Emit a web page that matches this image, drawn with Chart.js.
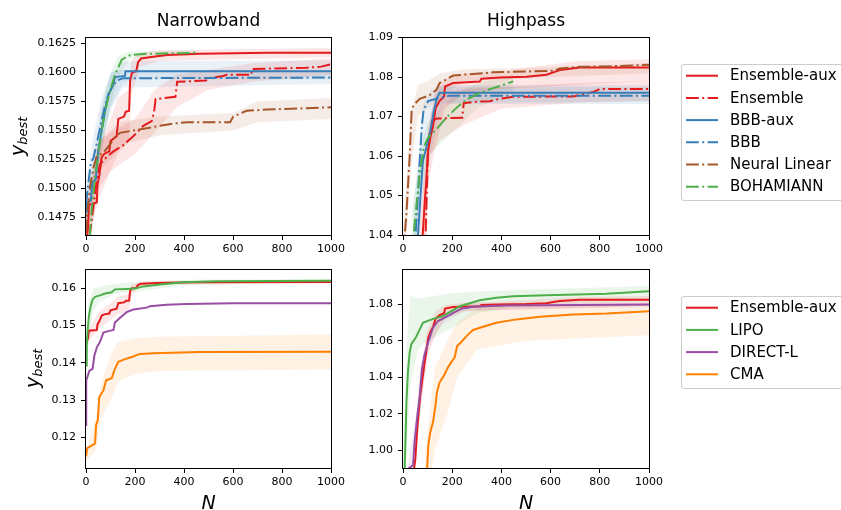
<!DOCTYPE html>
<html>
<head>
<meta charset="utf-8">
<script src="https://cdn.jsdelivr.net/npm/chart.js@4.4.1/dist/chart.umd.min.js"></script>
<style>
  html, body { margin: 0; padding: 0; background: #fff; }
  body { width: 841px; height: 510px; position: relative; overflow: hidden; font-family: "DejaVu Sans", sans-serif; color: #000; }
  canvas.panel { position: absolute; }
  .txt { position: absolute; white-space: nowrap; line-height: 1; color: #000; }
  .title { font-size: 17px; }
  .xlab { font-size: 19px; font-style: italic; }
  .ylab { font-size: 19px; font-style: italic; transform-origin: 0 0; }
  .ylab sub { font-size: 13px; vertical-align: -0.25em; }
  .legend { position: absolute; border: 1px solid #cccccc; border-radius: 3px; background: #fff; box-sizing: border-box; }
  .legtxt { position: absolute; white-space: nowrap; line-height: 1; font-size: 15px; }
  svg.legsvg { position: absolute; left: 0; top: 0; overflow: visible; }
</style>
</head>
<body>
<canvas id="tl" class="panel"></canvas>
<canvas id="tr" class="panel"></canvas>
<canvas id="bl" class="panel"></canvas>
<canvas id="br" class="panel"></canvas>

<script>
// ---------- tick values ----------
const xTicks = [0, 200, 400, 600, 800, 1000];
const nbTopTicks = [0.1475, 0.1500, 0.1525, 0.1550, 0.1575, 0.1600, 0.1625];
const hpTopTicks = [1.04, 1.05, 1.06, 1.07, 1.08, 1.09];
const nbBottomTicks = [0.12, 0.13, 0.14, 0.15, 0.16];
const hpBottomTicks = [1.00, 1.02, 1.04, 1.06, 1.08];

// ---------- Narrowband: surrogate models ----------
const nbEnsAuxN = [0, 8, 12, 44, 47, 55, 64, 75, 95, 100, 125, 132, 155, 162, 176, 180, 188, 205, 213, 225, 290, 330, 465, 740, 1000];
const nbEnsAuxY = [0.1452, 0.1466, 0.1486, 0.1488, 0.1503, 0.1512, 0.1527, 0.1530, 0.1532, 0.1541, 0.1545, 0.1560, 0.1562, 0.1566, 0.1567, 0.1593, 0.1600, 0.1601, 0.1609, 0.1612, 0.1614, 0.1615, 0.1616, 0.1617, 0.1617];
const nbEnsAuxBandN  = [0, 20, 50, 100, 130, 175, 185, 220, 300, 1000];
const nbEnsAuxBandLo = [0.1440, 0.1465, 0.1490, 0.1515, 0.1530, 0.1540, 0.1580, 0.1605, 0.1610, 0.1613];
const nbEnsAuxBandHi = [0.1470, 0.1500, 0.1535, 0.1560, 0.1578, 0.1585, 0.1610, 0.1617, 0.1619, 0.1621];

const nbEnsN = [0, 16, 30, 44, 57, 84, 112, 150, 193, 234, 268, 278, 284, 365, 372, 490, 500, 560, 575, 675, 678, 900, 960, 1000];
const nbEnsY = [0.1440, 0.1461, 0.1484, 0.1507, 0.1521, 0.1527, 0.1532, 0.1537, 0.1545, 0.1554, 0.1558, 0.1566, 0.1577, 0.1579, 0.1592, 0.1593, 0.1595, 0.1597, 0.1598, 0.1598, 0.1603, 0.1604, 0.1605, 0.1607];
const nbEnsBandN  = [0, 50, 100, 200, 280, 370, 500, 680, 1000];
const nbEnsBandLo = [0.1440, 0.1500, 0.1515, 0.1530, 0.1548, 0.1570, 0.1585, 0.1592, 0.1598];
const nbEnsBandHi = [0.1480, 0.1540, 0.1548, 0.1560, 0.1585, 0.1598, 0.1602, 0.1608, 0.1612];

const nbBbbAuxN = [0, 3, 20, 25, 40, 50, 64, 78, 91, 111, 118, 159, 161, 1000];
const nbBbbAuxY = [0.1480, 0.1487, 0.1490, 0.1505, 0.1508, 0.1532, 0.1550, 0.1567, 0.1581, 0.1589, 0.1596, 0.1597, 0.1601, 0.1601];
const nbBbbAuxBandN  = [0, 30, 60, 100, 150, 200, 1000];
const nbBbbAuxBandLo = [0.1465, 0.1490, 0.1530, 0.1570, 0.1590, 0.1594, 0.1594];
const nbBbbAuxBandHi = [0.1500, 0.1525, 0.1565, 0.1598, 0.1609, 0.1610, 0.1610];

const nbBbbN = [0, 10, 20, 30, 45, 60, 75, 90, 105, 125, 150, 1000];
const nbBbbY = [0.1487, 0.1505, 0.1523, 0.1526, 0.1540, 0.1555, 0.1569, 0.1580, 0.1587, 0.1593, 0.1595, 0.15956];
const nbBbbBandN  = [0, 30, 60, 100, 150, 1000];
const nbBbbBandLo = [0.1470, 0.1505, 0.1535, 0.1568, 0.1587, 0.1590];
const nbBbbBandHi = [0.1505, 0.1545, 0.1575, 0.1600, 0.1602, 0.1602];

const nbNeuralN = [0, 5, 16, 30, 44, 71, 98, 118, 139, 193, 248, 302, 356, 411, 588, 601, 656, 737, 873, 1000];
const nbNeuralY = [0.1462, 0.1478, 0.1501, 0.1518, 0.1528, 0.1531, 0.1538, 0.1544, 0.1548, 0.1550, 0.1552, 0.1554, 0.1556, 0.1557, 0.1557, 0.1562, 0.1567, 0.1568, 0.1569, 0.1570];
const nbNeuralBandN  = [0, 50, 100, 150, 300, 600, 700, 1000];
const nbNeuralBandLo = [0.1455, 0.1515, 0.1525, 0.1538, 0.1546, 0.1550, 0.1557, 0.1560];
const nbNeuralBandHi = [0.1480, 0.1540, 0.1550, 0.1558, 0.1562, 0.1565, 0.1575, 0.1578];

const nbBohN = [0, 10, 16, 23, 37, 50, 64, 78, 98, 118, 146, 180, 248, 458];
const nbBohY = [0.1440, 0.1455, 0.1461, 0.1481, 0.1510, 0.1530, 0.1550, 0.1567, 0.1584, 0.1598, 0.1611, 0.1615, 0.1616, 0.1617];
const nbBohBandN  = [0, 20, 40, 60, 80, 100, 130, 180, 458];
const nbBohBandLo = [0.1430, 0.1450, 0.1490, 0.1525, 0.1550, 0.1570, 0.1595, 0.1612, 0.1615];
const nbBohBandHi = [0.1460, 0.1480, 0.1525, 0.1565, 0.1585, 0.1600, 0.1614, 0.1618, 0.1619];

// ---------- Highpass: surrogate models ----------
const hpEnsAuxN = [40, 50, 58, 70, 80, 88, 95, 102, 111, 122, 133, 149, 167, 171, 204, 312, 319, 393, 502, 583, 611, 638, 719, 1000];
const hpEnsAuxY = [0.985, 0.995, 1.012, 1.030, 1.040, 1.048, 1.054, 1.0613, 1.0647, 1.0676, 1.0722, 1.0740, 1.0751, 1.0776, 1.0785, 1.0789, 1.0796, 1.0799, 1.0801, 1.0806, 1.0812, 1.0818, 1.0824, 1.0824];
const hpEnsAuxBandN  = [40, 70, 100, 130, 170, 250, 400, 700, 1000];
const hpEnsAuxBandLo = [0.975, 1.020, 1.052, 1.062, 1.072, 1.076, 1.077, 1.078, 1.079];
const hpEnsAuxBandHi = [0.995, 1.045, 1.066, 1.076, 1.0795, 1.081, 1.0815, 1.084, 1.0845];

const hpEnsN = [80, 92, 98, 102, 108, 119, 136, 241, 247, 285, 353, 393, 448, 692, 773, 800, 1000];
const hpEnsY = [1.030, 1.040, 1.0538, 1.063, 1.0655, 1.0689, 1.0695, 1.0697, 1.0734, 1.0737, 1.0739, 1.0745, 1.0750, 1.0751, 1.0762, 1.0770, 1.0770];
const hpEnsBandN  = [80, 110, 150, 250, 400, 700, 1000];
const hpEnsBandLo = [1.020, 1.060, 1.064, 1.068, 1.072, 1.0735, 1.074];
const hpEnsBandHi = [1.050, 1.070, 1.076, 1.077, 1.0775, 1.0785, 1.079];

const hpBbbAuxN = [50, 61, 70, 81, 98, 111, 125, 138, 149, 1000];
const hpBbbAuxY = [1.030, 1.040, 1.0488, 1.0588, 1.063, 1.0663, 1.0713, 1.0747, 1.0760, 1.0760];
const hpBbbAuxBandN  = [50, 80, 110, 140, 170, 1000];
const hpBbbAuxBandLo = [1.025, 1.050, 1.060, 1.069, 1.0735, 1.0738];
const hpBbbAuxBandHi = [1.045, 1.064, 1.070, 1.0775, 1.0780, 1.0780];

const hpBbbN = [40, 51, 61, 68, 77, 84, 102, 136, 190, 1000];
const hpBbbY = [1.030, 1.040, 1.0505, 1.0588, 1.068, 1.0718, 1.0739, 1.0745, 1.0753, 1.0753];
const hpBbbBandN  = [40, 60, 80, 110, 150, 200, 1000];
const hpBbbBandLo = [1.025, 1.044, 1.063, 1.070, 1.0730, 1.0732, 1.0732];
const hpBbbBandHi = [1.045, 1.058, 1.073, 1.0765, 1.0775, 1.0775, 1.0775];

const hpNeuralN = [0, 7, 14, 20, 27, 31, 35, 43, 68, 108, 136, 149, 204, 366, 611, 638, 719, 828, 1000];
const hpNeuralY = [1.030, 1.040, 1.0454, 1.0521, 1.0597, 1.0655, 1.0714, 1.0729, 1.0745, 1.0754, 1.0768, 1.0785, 1.0804, 1.0812, 1.0816, 1.0822, 1.0826, 1.0827, 1.0831];
const hpNeuralBandN  = [0, 30, 60, 100, 150, 250, 600, 1000];
const hpNeuralBandLo = [1.025, 1.055, 1.070, 1.072, 1.075, 1.079, 1.080, 1.081];
const hpNeuralBandHi = [1.040, 1.070, 1.078, 1.079, 1.081, 1.082, 1.0825, 1.0835];

const hpBohN = [35, 43, 54, 68, 84, 102, 136, 176, 217, 258, 312, 366, 407, 448];
const hpBohY = [1.030, 1.040, 1.0471, 1.0555, 1.0622, 1.0647, 1.0668, 1.0697, 1.0722, 1.0743, 1.0760, 1.0772, 1.0780, 1.0789];
const hpBohBandN  = [35, 70, 100, 150, 200, 300, 448];
const hpBohBandLo = [1.025, 1.050, 1.060, 1.063, 1.066, 1.072, 1.0765];
const hpBohBandHi = [1.045, 1.062, 1.068, 1.072, 1.075, 1.0785, 1.0805];

// ---------- Narrowband: global optimisers ----------
const nbLipoN = [0, 3, 7, 12, 19, 27, 37, 57, 78, 105, 118, 166, 200, 234, 302, 397, 533, 1000];
const nbLipoY = [0.1393, 0.1446, 0.1490, 0.1526, 0.1552, 0.1570, 0.1577, 0.1581, 0.1586, 0.1589, 0.1597, 0.1598, 0.1599, 0.1605, 0.1610, 0.1616, 0.1619, 0.1620];
const nbLipoBandN  = [0, 10, 30, 60, 120, 200, 400, 1000];
const nbLipoBandLo = [0.1330, 0.1450, 0.1540, 0.1565, 0.1585, 0.1590, 0.1608, 0.1615];
const nbLipoBandHi = [0.1430, 0.1560, 0.1600, 0.1605, 0.1612, 0.1617, 0.1623, 0.1625];

const nbDirectN = [0, 1, 14, 27, 34, 44, 57, 71, 91, 112, 118, 139, 166, 193, 248, 261, 329, 411, 601, 1000];
const nbDirectY = [0.1233, 0.1353, 0.1379, 0.1384, 0.1419, 0.1441, 0.1456, 0.1481, 0.1485, 0.1488, 0.1508, 0.1521, 0.1536, 0.1543, 0.1548, 0.1552, 0.1556, 0.1558, 0.1560, 0.1560];

const nbCmaN = [0, 5, 23, 37, 41, 48, 54, 71, 82, 105, 118, 132, 159, 193, 220, 275, 465, 1000];
const nbCmaY = [0.1149, 0.1171, 0.1178, 0.1184, 0.1233, 0.1246, 0.1308, 0.1326, 0.1353, 0.1359, 0.1384, 0.1403, 0.1410, 0.1417, 0.1424, 0.1426, 0.1429, 0.1430];
const nbCmaBandN  = [0, 40, 60, 100, 130, 200, 300, 1000];
const nbCmaBandLo = [0.1135, 0.1165, 0.1250, 0.1300, 0.1350, 0.1370, 0.1378, 0.1382];
const nbCmaBandHi = [0.1160, 0.1250, 0.1340, 0.1420, 0.1455, 0.1465, 0.1470, 0.1476];

// ---------- Highpass: global optimisers ----------
const hpLipoN = [0, 7, 14, 20, 27, 34, 52, 68, 81, 122, 163, 197, 231, 312, 380, 448, 583, 828, 1000];
const hpLipoY = [0.970, 0.990, 1.0263, 1.0426, 1.0535, 1.0581, 1.0617, 1.0662, 1.0698, 1.0720, 1.0735, 1.0762, 1.0789, 1.0822, 1.0835, 1.0844, 1.0849, 1.0858, 1.0871];
const hpLipoBandN  = [0, 15, 30, 60, 100, 200, 300, 500, 1000];
const hpLipoBandLo = [0.960, 1.000, 1.035, 1.055, 1.060, 1.067, 1.075, 1.080, 1.0815];
const hpLipoBandHi = [0.990, 1.060, 1.085, 1.083, 1.084, 1.086, 1.087, 1.088, 1.090];

const hpDirectN = [0, 24, 41, 47, 57, 68, 77, 88, 102, 122, 142, 176, 210, 237, 285, 421, 1000];
const hpDirectY = [0.970, 0.990, 0.9918, 1.0045, 1.0172, 1.0299, 1.0444, 1.0526, 1.0590, 1.0671, 1.0708, 1.0731, 1.0757, 1.0775, 1.0786, 1.0793, 1.0798];
const hpDirectBandN  = [0, 60, 100, 150, 250, 1000];
const hpDirectBandLo = [0.965, 1.010, 1.055, 1.068, 1.0765, 1.0785];
const hpDirectBandHi = [0.975, 1.025, 1.063, 1.074, 1.0805, 1.081];

const hpCmaN = [90, 98, 103, 111, 122, 132, 138, 149, 166, 183, 197, 210, 220, 237, 265, 285, 326, 380, 461, 556, 692, 828, 1000];
const hpCmaY = [0.980, 0.990, 1.0027, 1.010, 1.0154, 1.0245, 1.0318, 1.0372, 1.0408, 1.0454, 1.0484, 1.0508, 1.0571, 1.0593, 1.0635, 1.0659, 1.0677, 1.0698, 1.0717, 1.0731, 1.0744, 1.0749, 1.0762];
const hpCmaBandN  = [90, 130, 180, 220, 300, 500, 1000];
const hpCmaBandLo = [0.970, 1.000, 1.020, 1.040, 1.055, 1.060, 1.063];
const hpCmaBandHi = [1.000, 1.045, 1.060, 1.070, 1.078, 1.079, 1.080];

// ---------- styling ----------
const RED = '#e41a1c', BLUE = '#377eb8', BROWN = '#a65628', GREEN = '#4daf4a', PURPLE = '#984ea3', ORANGE = '#ff7f00';
const SOLID = [];
const DASHDOT = [12.8, 3.4, 2, 3.4];
const LINE_W = 2;
const BAND_ALPHA = 0.11;

function rgba(hex, a) {
  const n = parseInt(hex.slice(1), 16);
  return `rgba(${(n >> 16) & 255},${(n >> 8) & 255},${n & 255},${a})`;
}
function pts(xs, ys) { return xs.map((x, i) => ({ x: x, y: ys[i] })); }

// Series tables (label, colour, dash, data, optional band)
const topLegend = [
  { label: 'Ensemble-aux', color: RED,   dash: SOLID },
  { label: 'Ensemble',     color: RED,   dash: DASHDOT },
  { label: 'BBB-aux',      color: BLUE,  dash: SOLID },
  { label: 'BBB',          color: BLUE,  dash: DASHDOT },
  { label: 'Neural Linear',color: BROWN, dash: DASHDOT },
  { label: 'BOHAMIANN',    color: GREEN, dash: DASHDOT }
];
const bottomLegend = [
  { label: 'Ensemble-aux', color: RED,    dash: SOLID },
  { label: 'LIPO',         color: GREEN,  dash: SOLID },
  { label: 'DIRECT-L',     color: PURPLE, dash: SOLID },
  { label: 'CMA',          color: ORANGE, dash: SOLID }
];

const panels = [
  {
    id: 'tl', plot: [86, 36, 331, 235], yMin: 0.1460, yMax: 0.1630, yTicks: nbTopTicks, digits: 4,
    series: [
      [nbEnsAuxN, nbEnsAuxY, [nbEnsAuxBandN, nbEnsAuxBandLo, nbEnsAuxBandHi]],
      [nbEnsN, nbEnsY, [nbEnsBandN, nbEnsBandLo, nbEnsBandHi]],
      [nbBbbAuxN, nbBbbAuxY, [nbBbbAuxBandN, nbBbbAuxBandLo, nbBbbAuxBandHi]],
      [nbBbbN, nbBbbY, [nbBbbBandN, nbBbbBandLo, nbBbbBandHi]],
      [nbNeuralN, nbNeuralY, [nbNeuralBandN, nbNeuralBandLo, nbNeuralBandHi]],
      [nbBohN, nbBohY, [nbBohBandN, nbBohBandLo, nbBohBandHi]]
    ], styles: topLegend
  },
  {
    id: 'tr', plot: [403, 36, 649, 235], yMin: 1.04, yMax: 1.09, yTicks: hpTopTicks, digits: 2,
    series: [
      [hpEnsAuxN, hpEnsAuxY, [hpEnsAuxBandN, hpEnsAuxBandLo, hpEnsAuxBandHi]],
      [hpEnsN, hpEnsY, [hpEnsBandN, hpEnsBandLo, hpEnsBandHi]],
      [hpBbbAuxN, hpBbbAuxY, [hpBbbAuxBandN, hpBbbAuxBandLo, hpBbbAuxBandHi]],
      [hpBbbN, hpBbbY, [hpBbbBandN, hpBbbBandLo, hpBbbBandHi]],
      [hpNeuralN, hpNeuralY, [hpNeuralBandN, hpNeuralBandLo, hpNeuralBandHi]],
      [hpBohN, hpBohY, [hpBohBandN, hpBohBandLo, hpBohBandHi]]
    ], styles: topLegend
  },
  {
    id: 'bl', plot: [86, 268, 331, 468], yMin: 0.1118, yMax: 0.1650, yTicks: nbBottomTicks, digits: 2,
    series: [
      [nbEnsAuxN, nbEnsAuxY, [nbEnsAuxBandN, nbEnsAuxBandLo, nbEnsAuxBandHi]],
      [nbLipoN, nbLipoY, [nbLipoBandN, nbLipoBandLo, nbLipoBandHi]],
      [nbDirectN, nbDirectY, null],
      [nbCmaN, nbCmaY, [nbCmaBandN, nbCmaBandLo, nbCmaBandHi]]
    ], styles: bottomLegend
  },
  {
    id: 'br', plot: [403, 268, 649, 468], yMin: 0.9902, yMax: 1.0990, yTicks: hpBottomTicks, digits: 2,
    series: [
      [hpEnsAuxN, hpEnsAuxY, [hpEnsAuxBandN, hpEnsAuxBandLo, hpEnsAuxBandHi]],
      [hpLipoN, hpLipoY, [hpLipoBandN, hpLipoBandLo, hpLipoBandHi]],
      [hpDirectN, hpDirectY, [hpDirectBandN, hpDirectBandLo, hpDirectBandHi]],
      [hpCmaN, hpCmaY, [hpCmaBandN, hpCmaBandLo, hpCmaBandHi]]
    ], styles: bottomLegend
  }
];

// Axis frame (all four spines) drawn over the data
const framePlugin = {
  id: 'frame',
  afterDatasetsDraw(chart) {
    const a = chart.chartArea, ctx = chart.ctx;
    ctx.save();
    ctx.strokeStyle = '#000';
    ctx.lineWidth = 1;
    ctx.strokeRect(Math.round(a.left) - 0.5, Math.round(a.top) - 0.5, Math.round(a.right - a.left) + 1, Math.round(a.bottom - a.top) + 1);
    ctx.restore();
  }
};

const AXIS_W = 80, AXIS_H = 30, PAD_T = 10, PAD_R = 22;
const tickFont = { family: 'DejaVu Sans', size: 11 };

panels.forEach(p => {
  const [x0, y0, x1, y1] = p.plot;
  const cv = document.getElementById(p.id);
  const w = (x1 - x0) + AXIS_W + PAD_R, h = (y1 - y0) + PAD_T + AXIS_H;
  cv.width = w; cv.height = h;
  cv.style.left = (x0 - AXIS_W) + 'px';
  cv.style.top = (y0 - PAD_T) + 'px';
  cv.style.width = w + 'px'; cv.style.height = h + 'px';

  const datasets = [];
  const n = p.series.length;
  p.series.forEach((s, i) => {
    const st = p.styles[i];
    const band = s[2];
    if (band) {
      datasets.push({ data: pts(band[0], band[1]), borderWidth: 0, pointRadius: 0, fill: false, order: 100 + i * 2 });
      datasets.push({ data: pts(band[0], band[2]), borderWidth: 0, pointRadius: 0, fill: '-1',
        backgroundColor: rgba(st.color, BAND_ALPHA), order: 100 + i * 2 });
    }
  });
  p.series.forEach((s, i) => {
    const st = p.styles[i];
    datasets.push({
      label: st.label, data: pts(s[0], s[1]), borderColor: st.color, borderWidth: LINE_W,
      borderDash: st.dash, pointRadius: 0, fill: false, tension: 0, order: n - i
    });
  });

  new Chart(cv, {
    type: 'line',
    data: { datasets: datasets },
    options: {
      responsive: false, animation: false, devicePixelRatio: 1,
      layout: { padding: { top: PAD_T, right: PAD_R, left: 0, bottom: 0 } },
      plugins: { legend: { display: false }, tooltip: { enabled: false } },
      events: [],
      scales: {
        x: {
          type: 'linear', min: 0, max: 1000,
          afterBuildTicks: sc => { sc.ticks = xTicks.map(v => ({ value: v })); },
          afterFit: sc => { sc.height = AXIS_H; },
          ticks: { font: tickFont, color: '#000', padding: 3, maxRotation: 0, autoSkip: false, callback: v => String(v) },
          grid: { drawOnChartArea: false, drawTicks: true, tickLength: 5, color: '#000', lineWidth: 1 },
          border: { display: false }
        },
        y: {
          type: 'linear', min: p.yMin, max: p.yMax,
          afterBuildTicks: sc => { sc.ticks = p.yTicks.map(v => ({ value: v })); },
          afterFit: sc => { sc.width = AXIS_W; },
          ticks: { font: tickFont, color: '#000', padding: 5, autoSkip: false, callback: v => v.toFixed(p.digits) },
          grid: { drawOnChartArea: false, drawTicks: true, tickLength: 5, color: '#000', lineWidth: 1 },
          border: { display: false }
        }
      }
    },
    plugins: [framePlugin]
  });
});

// ---------- titles and axis labels ----------
function addText(cls, html, left, top, extraStyle) {
  const d = document.createElement('div');
  d.className = 'txt ' + cls;
  d.innerHTML = html;
  d.style.left = left + 'px';
  d.style.top = top + 'px';
  if (extraStyle) Object.assign(d.style, extraStyle);
  document.body.appendChild(d);
  return d;
}
// centred horizontally on a point, with baseline at given y (DejaVu: baseline ~0.846em below line-box top)
function centredText(cls, text, cx, baseline, size) {
  const d = addText(cls, text, cx, baseline - 0.846 * size);
  d.style.transform = 'translateX(-50%)';
  return d;
}
centredText('title', 'Narrowband', 208.5, 26.7, 17);
centredText('title', 'Highpass', 526, 26.7, 17);
centredText('xlab', 'N', 208.5, 509.5, 19);
centredText('xlab', 'N', 526, 509.5, 19);

function yLabel(cx, cy) {
  const d = addText('ylab', 'y<sub>best</sub>', 0, 0);
  const r = d.getBoundingClientRect();
  d.style.left = (cx - r.height / 2) + 'px';
  d.style.top = (cy + r.width / 2) + 'px';
  d.style.transform = 'rotate(-90deg)';
}
yLabel(19, 136);
yLabel(34, 368);

// ---------- legends ----------
function legend(items, boxTop, boxH, firstRow) {
  const box = document.createElement('div');
  box.className = 'legend';
  Object.assign(box.style, { left: '681px', top: boxTop + 'px', width: '200px', height: boxH + 'px' });
  document.body.appendChild(box);
  const svgNS = 'http://www.w3.org/2000/svg';
  const svg = document.createElementNS(svgNS, 'svg');
  svg.setAttribute('class', 'legsvg');
  svg.setAttribute('width', '841'); svg.setAttribute('height', '510');
  document.body.appendChild(svg);
  items.forEach((it, i) => {
    const y = firstRow + i * 22.2;
    const ln = document.createElementNS(svgNS, 'line');
    ln.setAttribute('x1', 686); ln.setAttribute('x2', 718);
    ln.setAttribute('y1', y); ln.setAttribute('y2', y);
    ln.setAttribute('stroke', it.color); ln.setAttribute('stroke-width', LINE_W);
    if (it.dash.length) ln.setAttribute('stroke-dasharray', it.dash.join(' '));
    svg.appendChild(ln);
    const t = document.createElement('div');
    t.className = 'legtxt';
    t.textContent = it.label;
    t.style.left = '730px';
    t.style.top = (y + 5.3 - 0.846 * 15) + 'px';
    document.body.appendChild(t);
  });
}
legend(topLegend, 64, 137, 75.7);
legend(bottomLegend, 296, 93, 307.7);
</script>
</body>
</html>
